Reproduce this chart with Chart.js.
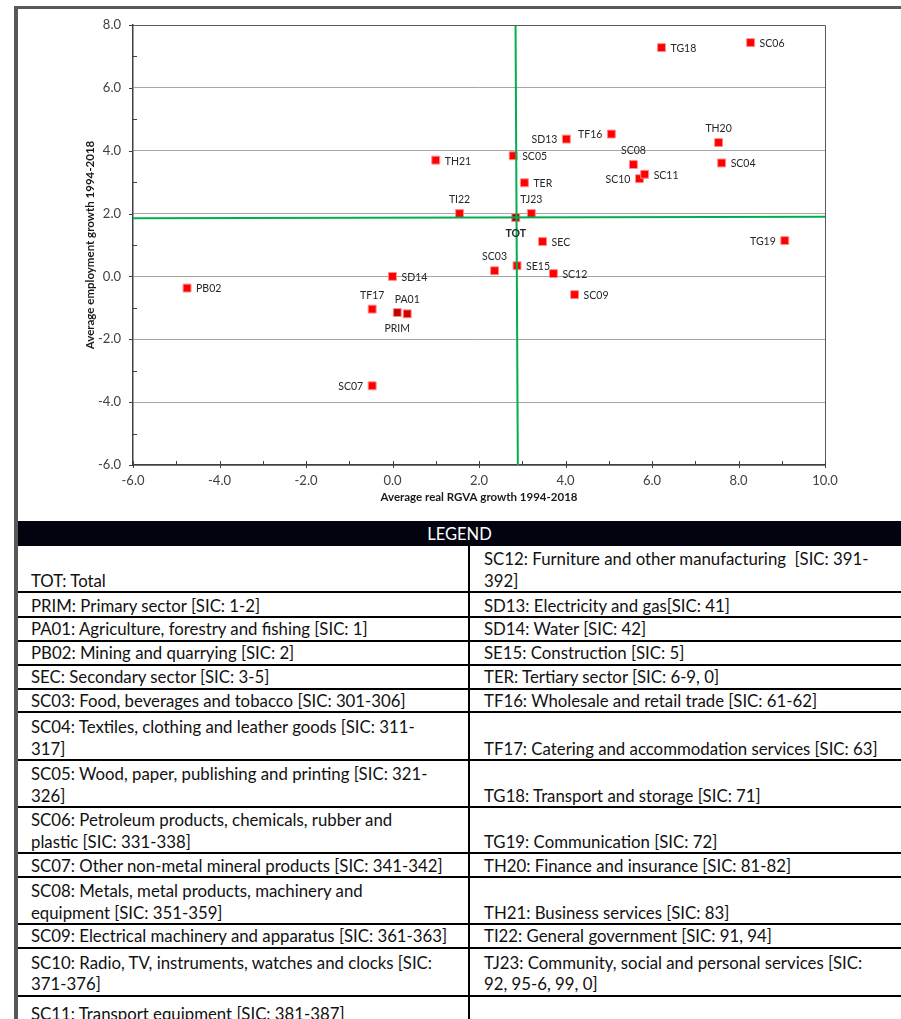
<!DOCTYPE html>
<html>
<head>
<meta charset="utf-8">
<title>RGVA vs employment growth 1994-2018</title>
<script src="https://cdn.jsdelivr.net/npm/chart.js@4.4.0/dist/chart.umd.min.js"></script>
<style>
    html, body { margin: 0; padding: 0; background: #fff; width: 901px; height: 1019px; overflow: hidden; font-family: Lato, "Open Sans", sans-serif; }
    #chartWrap { position: absolute; left: 0; top: 0; width: 901px; height: 520px; }
    #frame { position: absolute; left: 14px; top: 6px; width: 900px; height: 1030px; border-left: 4px solid #595959; border-top: 3px solid #595959; pointer-events: none; }
    #legend { position: absolute; left: 18px; top: 521px; width: 900px; border-collapse: collapse; table-layout: fixed; color: #111; font-size: 16.8px; }
    #legend th { background: #03030f; color: #fff; font-weight: normal; font-size: 16.5px; height: 25px; padding: 0 17px 0 0; text-align: center; line-height: 20px; }
    #legend td { vertical-align: bottom; line-height: 21.5px; white-space: pre; padding: 0 0 0 13px; border-bottom: 2px solid #000; overflow: hidden; }
    #legend td.r { border-left: 2px solid #000; padding-left: 14px; }
</style>
</head>
<body>
<div id="chartWrap"><canvas id="scatter_chart"></canvas></div>
<table id="legend">
    <colgroup><col style="width:451px"><col></colgroup>
    <thead><tr><th colspan="2">LEGEND</th></tr></thead>
    <tbody id="legend_body"></tbody>
</table>
<div id="frame"></div>

<script>
// sector codes, in legend order
const codes = ['TOT', 'PRIM', 'PA01', 'PB02', 'SEC', 'SC03', 'SC04', 'SC05', 'SC06', 'SC07',
    'SC08', 'SC09', 'SC10', 'SC11', 'SC12', 'SD13', 'SD14', 'SE15', 'TER', 'TF16',
    'TF17', 'TG18', 'TG19', 'TH20', 'TH21', 'TI22', 'TJ23'];

// average real RGVA growth 1994-2018 (x)
const rgvaGrowth = [2.85, 0.11, 0.34, -4.75, 3.47, 2.36, 7.61, 2.79, 8.28, -0.47,
    5.57, 4.21, 5.71, 5.83, 3.72, 4.02, 0.00, 2.88, 3.05, 5.06,
    -0.47, 6.22, 9.07, 7.54, 1.00, 1.55, 3.21];

// average employment growth 1994-2018 (y)
const empGrowth = [1.87, -1.15, -1.19, -0.37, 1.11, 0.18, 3.61, 3.84, 7.44, -3.48,
    3.56, -0.58, 3.11, 3.25, 0.09, 4.37, 0.00, 0.34, 2.98, 4.53,
    -1.04, 7.28, 1.14, 4.26, 3.70, 2.00, 2.00];

// green cross lines through the total
const crossX = [2.845, 2.898];
const crossY = [1.85, 1.90];

const xRange = [-6, 10];
const yRange = [-6, 8];

// legend table, two columns, '\n' where the source wraps
const legendLeft = [
    'TOT: Total',
    'PRIM: Primary sector [SIC: 1-2]',
    'PA01: Agriculture, forestry and fishing [SIC: 1]',
    'PB02: Mining and quarrying [SIC: 2]',
    'SEC: Secondary sector [SIC: 3-5]',
    'SC03: Food, beverages and tobacco [SIC: 301-306]',
    'SC04: Textiles, clothing and leather goods [SIC: 311-\n317]',
    'SC05: Wood, paper, publishing and printing [SIC: 321-\n326]',
    'SC06: Petroleum products, chemicals, rubber and\nplastic [SIC: 331-338]',
    'SC07: Other non-metal mineral products [SIC: 341-342]',
    'SC08: Metals, metal products, machinery and\nequipment [SIC: 351-359]',
    'SC09: Electrical machinery and apparatus [SIC: 361-363]',
    'SC10: Radio, TV, instruments, watches and clocks [SIC:\n371-376]',
    'SC11: Transport equipment [SIC: 381-387]'
];
const legendRight = [
    'SC12: Furniture and other manufacturing  [SIC: 391-\n392]',
    'SD13: Electricity and gas[SIC: 41]',
    'SD14: Water [SIC: 42]',
    'SE15: Construction [SIC: 5]',
    'TER: Tertiary sector [SIC: 6-9, 0]',
    'TF16: Wholesale and retail trade [SIC: 61-62]',
    'TF17: Catering and accommodation services [SIC: 63]',
    'TG18: Transport and storage [SIC: 71]',
    'TG19: Communication [SIC: 72]',
    'TH20: Finance and insurance [SIC: 81-82]',
    'TH21: Business services [SIC: 83]',
    'TI22: General government [SIC: 91, 94]',
    'TJ23: Community, social and personal services [SIC:\n92, 95-6, 99, 0]',
    ''
];

// layout only
const rowHeights = [46, 25, 23.5, 24, 24, 23.5, 48, 47, 46, 24, 47, 23, 48, 30];
const labelSide = {
    TOT: 'below', PRIM: 'below', PA01: 'above', PB02: 'right', SEC: 'right', SC03: 'above',
    SC04: 'right', SC05: 'right', SC06: 'right', SC07: 'left', SC08: 'above', SC09: 'right',
    SC10: 'left', SC11: 'right', SC12: 'right', SD13: 'left', SD14: 'right', SE15: 'right',
    TER: 'right', TF16: 'left', TF17: 'above', TG18: 'right', TG19: 'left', TH20: 'above',
    TH21: 'right', TI22: 'above', TJ23: 'above'
};
const darkMarkers = {TOT: '#b00000', PRIM: '#c00000', PA01: '#d00000'};

function buildLegend() {
    let body = document.getElementById('legend_body');
    for (let i = 0; i < legendLeft.length; i++) {
        let tr = document.createElement('tr');
        tr.style.height = rowHeights[i] + 'px';
        let l = document.createElement('td');
        l.textContent = legendLeft[i];
        let r = document.createElement('td');
        r.className = 'r';
        r.textContent = legendRight[i];
        tr.appendChild(l);
        tr.appendChild(r);
        body.appendChild(tr);
    }
}

const axisMarks = {
    id: 'axisMarks',
    afterDatasetsDraw(chart) {
        const ctx = chart.ctx;
        const a = chart.chartArea;
        const x = chart.scales.x;
        const y = chart.scales.y;
        ctx.save();
        ctx.strokeStyle = '#595959';
        ctx.lineWidth = 1;
        ctx.beginPath();
        ctx.moveTo(a.left, a.top + 0.5);
        ctx.lineTo(a.right + 0.5, a.top + 0.5);
        ctx.lineTo(a.right + 0.5, a.bottom);
        ctx.stroke();

        ctx.strokeStyle = '#404040';
        ctx.beginPath();
        for (let v = xRange[0]; v <= xRange[1]; v++) {
            let px = Math.round(x.getPixelForValue(v)) + 0.5;
            ctx.moveTo(px, a.bottom - 4);
            ctx.lineTo(px, a.bottom + (v % 2 === 0 ? 3 : 0));
        }
        for (let v = yRange[0]; v <= yRange[1]; v++) {
            let py = Math.round(y.getPixelForValue(v)) + 0.5;
            if (v % 2 === 0) {
                ctx.moveTo(a.left - 4, py);
                ctx.lineTo(a.left, py);
            } else {
                ctx.moveTo(a.left, py);
                ctx.lineTo(a.left + 4, py);
            }
        }
        ctx.stroke();
        ctx.restore();
    }
};

const pointLabels = {
    id: 'pointLabels',
    afterDatasetsDraw(chart) {
        const ctx = chart.ctx;
        const meta = chart.getDatasetMeta(2);
        ctx.save();
        ctx.fillStyle = '#262626';
        meta.data.forEach(function (pt, i) {
            let code = codes[i];
            let side = labelSide[code];
            ctx.font = (code === 'TOT' ? 'bold ' : '') + '10.5px Lato';
            ctx.textBaseline = 'middle';
            if (side === 'right') {
                ctx.textAlign = 'left';
                ctx.fillText(code, pt.x + 9, pt.y + 1);
            } else if (side === 'left') {
                ctx.textAlign = 'right';
                ctx.fillText(code, pt.x - 9, pt.y + 1);
            } else if (side === 'above') {
                ctx.textAlign = 'center';
                ctx.fillText(code, pt.x, pt.y - 14);
            } else {
                ctx.textAlign = 'center';
                ctx.fillText(code, pt.x, pt.y + 16);
            }
        });
        ctx.restore();
    }
};

function draw() {
    let points = codes.map((c, i) => ({x: rgvaGrowth[i], y: empGrowth[i]}));
    let fills = codes.map(c => darkMarkers[c] || '#ff0000');

    new Chart(document.getElementById('scatter_chart'), {
        type: 'scatter',
        data: {
            datasets: [
                {
                    data: [{x: crossX[0], y: yRange[1]}, {x: crossX[1], y: yRange[0]}],
                    showLine: true, borderColor: '#00b050', borderWidth: 2, pointRadius: 0
                },
                {
                    data: [{x: xRange[0], y: crossY[0]}, {x: xRange[1], y: crossY[1]}],
                    showLine: true, borderColor: '#00b050', borderWidth: 2, pointRadius: 0
                },
                {
                    data: points,
                    pointStyle: 'rect',
                    pointRadius: 5.6,
                    backgroundColor: fills,
                    borderColor: '#ff8c8c',
                    borderWidth: 1
                }
            ]
        },
        options: {
            responsive: true,
            maintainAspectRatio: false,
            animation: false,
            events: [],
            layout: {padding: {left: 80, right: 76, top: 25, bottom: 10}},
            plugins: {legend: {display: false}, tooltip: {enabled: false}},
            scales: {
                x: {
                    type: 'linear',
                    min: xRange[0], max: xRange[1],
                    afterFit: s => { s.height = 45; },
                    ticks: {stepSize: 2, padding: 8, color: '#404040', font: {family: 'Lato', size: 13},
                        callback: v => v.toFixed(1)},
                    grid: {display: false, drawTicks: false},
                    border: {color: '#404040', width: 1.5},
                    title: {display: true, text: 'Average real RGVA growth 1994-2018', color: '#1a1a1a',
                        font: {family: 'Lato', size: 11.5, weight: 'bold'}, padding: {top: 0, bottom: 6}}
                },
                y: {
                    type: 'linear',
                    min: yRange[0], max: yRange[1],
                    afterFit: s => { s.width = 53; },
                    ticks: {stepSize: 2, padding: 12, color: '#404040', font: {family: 'Lato', size: 13},
                        callback: v => v.toFixed(1)},
                    grid: {color: '#a6a6a6', lineWidth: 1, drawTicks: false},
                    border: {color: '#404040', width: 1.5},
                    title: {display: true, text: 'Average employment growth 1994-2018', color: '#1a1a1a',
                        font: {family: 'Lato', size: 11.5, weight: 'bold'}, padding: {top: 3, bottom: 0}}
                }
            }
        },
        plugins: [axisMarks, pointLabels]
    });
}

buildLegend();
draw();
</script>
</body>
</html>
